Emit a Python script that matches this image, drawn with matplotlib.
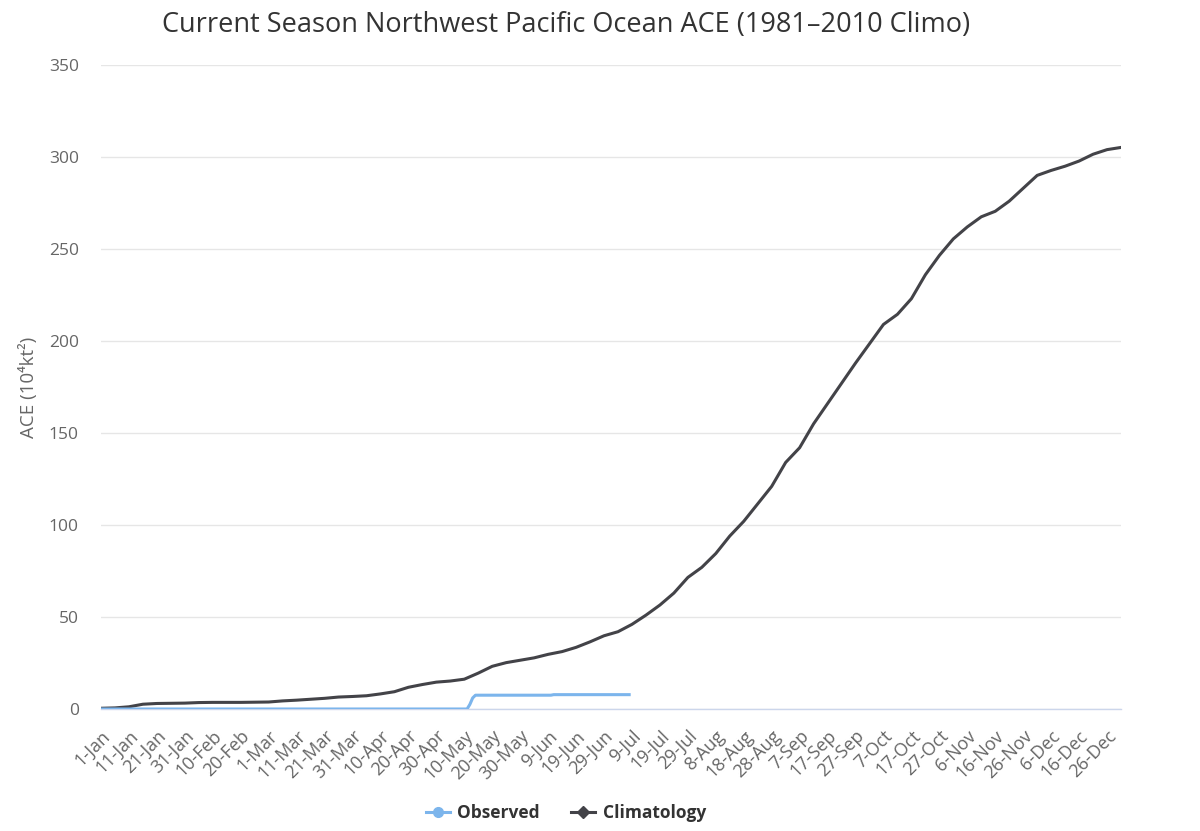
import matplotlib
matplotlib.use("Agg")
import matplotlib.pyplot as plt
from matplotlib.lines import Line2D

plt.rcParams['font.family'] = ['Open Sans', 'DejaVu Sans']

# ---- data ----
clim_days = [1, 6, 11, 16, 21, 26, 31, 36, 41, 46, 51, 56, 61, 66, 71, 76, 81, 86, 91, 96,
             101, 106, 111, 116, 121, 126, 131, 136, 141, 146, 151, 156, 161, 166, 171, 176,
             181, 186, 191, 196, 201, 206, 211, 216, 221, 226, 231, 236, 241, 246, 251, 256,
             261, 266, 271, 276, 281, 286, 291, 296, 301, 306, 311, 316, 321, 326, 331, 336,
             341, 346, 351, 356, 361, 366]
clim_vals = [0.4, 0.6, 1.2, 2.6, 3.0, 3.1, 3.2, 3.5, 3.6, 3.6, 3.6, 3.7, 3.8, 4.4, 4.8, 5.3,
             5.8, 6.5, 6.8, 7.2, 8.2, 9.4, 11.8, 13.3, 14.6, 15.2, 16.2, 19.5, 23.2, 25.2,
             26.5, 27.8, 29.7, 31.2, 33.5, 36.5, 39.8, 42.0, 46.0, 51.0, 56.5, 63.0, 71.5,
             77.0, 84.5, 94.0, 102.0, 111.5, 121.0, 134.0, 142.0, 155.0, 166.0, 177.0, 188.0,
             198.5, 209.0, 214.5, 223.0, 236.0, 246.5, 255.5, 262.0, 267.5, 270.5, 276.0,
             283.0, 290.0, 292.7, 295.0, 297.8, 301.5, 304.0, 305.2]

obs_days = [1, 132, 133, 134, 135, 162, 163, 190]
obs_vals = [0.0, 0.0, 2.5, 6.0, 7.5, 7.5, 7.8, 7.8]

tick_days = list(range(1, 362, 10))
tick_labels = ['1-Jan', '11-Jan', '21-Jan', '31-Jan', '10-Feb', '20-Feb', '1-Mar', '11-Mar',
               '21-Mar', '31-Mar', '10-Apr', '20-Apr', '30-Apr', '10-May', '20-May', '30-May',
               '9-Jun', '19-Jun', '29-Jun', '9-Jul', '19-Jul', '29-Jul', '8-Aug', '18-Aug',
               '28-Aug', '7-Sep', '17-Sep', '27-Sep', '7-Oct', '17-Oct', '27-Oct', '6-Nov',
               '16-Nov', '26-Nov', '6-Dec', '16-Dec', '26-Dec']
y_ticks = [0, 50, 100, 150, 200, 250, 300, 350]

OBS_C = '#7cb5ec'
CLIM_C = '#434348'

fig = plt.figure(figsize=(12, 8.31), dpi=100)
ax = fig.add_axes([101/1200, 122/831, 1020/1200, 644/831])

ax.plot(clim_days, clim_vals, color=CLIM_C, lw=2.2, solid_joinstyle='round', zorder=3)
ax.plot(obs_days, obs_vals, color=OBS_C, lw=2.2, solid_joinstyle='round', zorder=4)

ax.set_xlim(1, 366)
ax.set_ylim(0, 350)
ax.set_yticks(y_ticks)
ax.set_yticklabels([str(v) for v in y_ticks])
ax.set_xticks(tick_days)
ax.set_xticklabels(tick_labels, rotation=45, ha='right', va='top', rotation_mode='anchor')

for s in ['top', 'right', 'left']:
    ax.spines[s].set_visible(False)
ax.spines['bottom'].set_color('#ccd6eb')
ax.spines['bottom'].set_linewidth(1)

ax.grid(axis='y', color='#e6e6e6', lw=1)
ax.set_axisbelow(True)
ax.tick_params(axis='y', length=0, pad=16, labelsize=12.5, labelcolor='#666666')
ax.tick_params(axis='x', length=0, pad=13, labelsize=13, labelcolor='#666666')

ax.set_ylabel('ACE (10⁴kt²)', fontsize=13.5, color='#666666', labelpad=8)

fig.text(566/1200, 1 - 25/831, 'Current Season Northwest Pacific Ocean ACE (1981\u20132010 Climo)',
         ha='center', va='center', fontsize=19.5, color='#333333')

handles = [Line2D([0], [0], color=OBS_C, lw=2.2, marker='o', markersize=7),
           Line2D([0], [0], color=CLIM_C, lw=2.2, marker='D', markersize=6)]
leg = fig.legend(handles, ['Observed', 'Climatology'], loc='center',
                 bbox_to_anchor=(566/1200, 1 - 813/831), ncol=2, frameon=False,
                 handlelength=1.35, columnspacing=1.8, handletextpad=0.45,
                 prop={'weight': 'bold', 'size': 12.5})
for t in leg.get_texts():
    t.set_color('#333333')

fig.savefig('out.png', dpi=100)
